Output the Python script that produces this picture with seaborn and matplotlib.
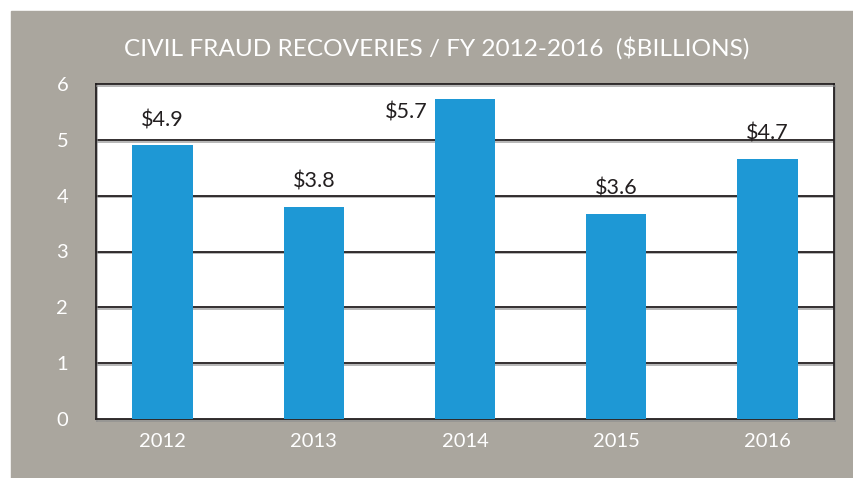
import pandas as pd
import matplotlib
matplotlib.use("Agg")
import matplotlib.pyplot as plt
import matplotlib.patheffects as pe
from matplotlib.patches import Rectangle
import seaborn as sns

years = ["2012", "2013", "2014", "2015", "2016"]
recoveries = [4.9, 3.8, 5.73, 3.68, 4.66]
labels = ["$4.9", "$3.8", "$5.7", "$3.6", "$4.7"]
y_ticks = [0, 1, 2, 3, 4, 5, 6]

df = pd.DataFrame({"Year": years, "Recoveries": recoveries})

bg = "#aaa69e"
bar_color = "#1e98d5"
ink = "#231f20"

sns.set_style("white")
plt.rcParams["font.family"] = ["Lato", "DejaVu Sans"]

fig = plt.figure(figsize=(8.54, 4.78), dpi=100)
fig.patch.set_facecolor("white")
fig.patches.append(Rectangle((11 / 854, 0), 1, 1 - 11 / 478,
                             transform=fig.transFigure, color=bg, zorder=-10))

ax = fig.add_axes([96 / 854, 59 / 478, 738 / 854, 335 / 478])
ax.set_facecolor("white")

sns.barplot(data=df, x="Year", y="Recoveries", color=bar_color,
            width=0.40, saturation=1, linewidth=0, ax=ax, zorder=3)

ax.set_ylim(0, 6)
ax.set_xlim(-0.44, 4.44)
ax.set_yticks(y_ticks)
ax.set_xlabel("")
ax.set_ylabel("")

shadow = [pe.SimpleLineShadow(offset=(0.6, -1.2), shadow_color="#8f8f8f", alpha=0.7),
          pe.Normal()]
for t in y_ticks[1:-1]:
    ax.axhline(t, color=ink, lw=1.3, zorder=2, path_effects=shadow)

for s in ax.spines.values():
    s.set_visible(True)
    s.set_color(ink)
    s.set_linewidth(1.3)
    s.set_path_effects(shadow)

ax.tick_params(axis="both", length=0, colors="white", labelsize=14.5)
ax.tick_params(axis="y", pad=20)
ax.tick_params(axis="x", pad=10)

bar_w = ax.patches[0].get_width()
for i, (val, lab) in enumerate(zip(recoveries, labels)):
    if val > 5.5:
        ax.annotate(lab, (i - bar_w / 2, val), xytext=(-5, -10),
                    textcoords="offset points", ha="right", va="center",
                    fontsize=15.5, color=ink)
    else:
        ax.annotate(lab, (i, val), xytext=(0, 11),
                    textcoords="offset points", ha="center", va="bottom",
                    fontsize=15.5, color=ink)

fig.text(437 / 854, 1 - 48 / 478, "CIVIL FRAUD RECOVERIES / FY 2012-2016  ($BILLIONS)",
         ha="center", va="center", color="white", fontsize=17.6)

fig.savefig("out.png", dpi=100, facecolor=fig.get_facecolor())
